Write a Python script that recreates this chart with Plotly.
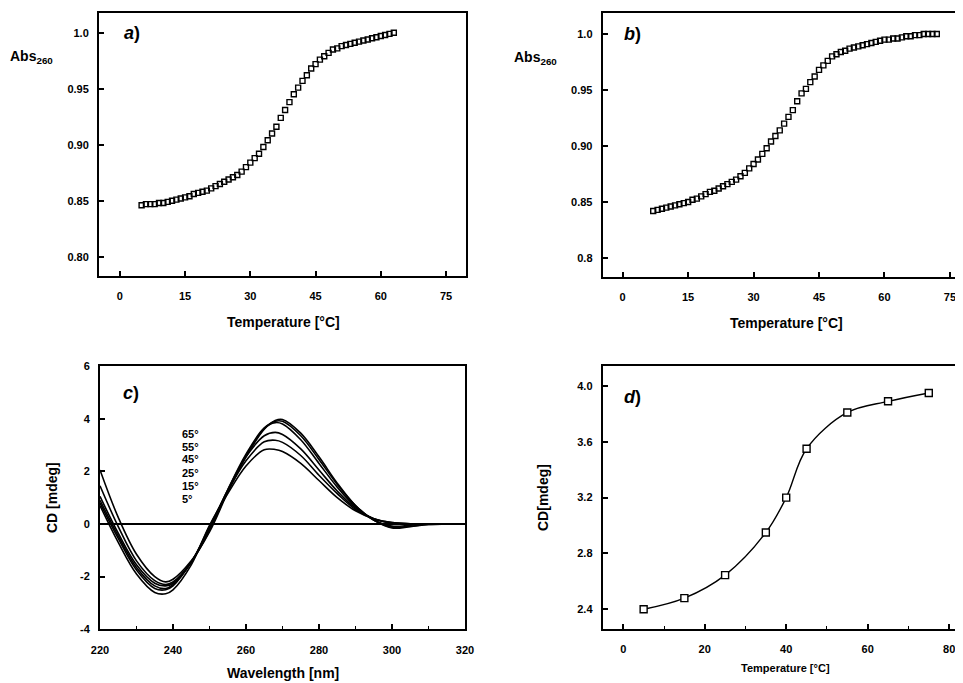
import plotly.graph_objects as go

# ---------------- data ----------------
# panel a) absorbance melting curve
a_temp = list(range(5, 64))
a_abs = [0.846, 0.847, 0.847, 0.847, 0.848, 0.848, 0.849, 0.850, 0.851, 0.852,
         0.853, 0.854, 0.856, 0.857, 0.858, 0.859, 0.861, 0.863, 0.865, 0.867,
         0.869, 0.871, 0.873, 0.876, 0.880, 0.884, 0.888, 0.892, 0.898, 0.904,
         0.910, 0.916, 0.924, 0.931, 0.938, 0.945, 0.951, 0.957, 0.962, 0.968,
         0.972, 0.976, 0.979, 0.982, 0.985, 0.986, 0.988, 0.989, 0.990, 0.991,
         0.992, 0.993, 0.994, 0.995, 0.996, 0.997, 0.998, 0.999, 1.000]

# panel b) absorbance melting curve
b_temp = list(range(7, 73))
b_abs = [0.842, 0.843, 0.844, 0.845, 0.846, 0.847, 0.848, 0.849, 0.850, 0.852,
         0.853, 0.855, 0.857, 0.859, 0.860, 0.862, 0.864, 0.866, 0.868, 0.870,
         0.873, 0.876, 0.880, 0.884, 0.888, 0.893, 0.898, 0.904, 0.909, 0.914,
         0.920, 0.926, 0.932, 0.940, 0.947, 0.951, 0.957, 0.962, 0.968, 0.972,
         0.976, 0.980, 0.982, 0.984, 0.985, 0.987, 0.988, 0.989, 0.990, 0.991,
         0.992, 0.993, 0.994, 0.995, 0.995, 0.996, 0.996, 0.997, 0.998, 0.998,
         0.999, 0.999, 1.000, 1.000, 1.000, 1.000]

# panel c) CD spectra at several temperatures
wavelength = [220, 225, 230, 235, 238, 240, 245, 250, 255, 260, 265, 268, 270,
              275, 280, 285, 290, 295, 300, 305, 310, 320]
cd_temps = ["65°", "55°", "45°", "25°", "15°", "5°"]
cd_65 = [2.05, 0.25, -1.15, -2.00, -2.20, -2.10, -1.40, -0.30, 1.20, 2.55, 3.60, 3.93, 3.97,
         3.45, 2.55, 1.55, 0.70, 0.15, -0.15, -0.10, -0.02, 0.0]
cd_55 = [1.45, -0.10, -1.40, -2.15, -2.30, -2.20, -1.45, -0.25, 1.25, 2.60, 3.62, 3.90, 3.90,
         3.35, 2.45, 1.50, 0.70, 0.15, -0.12, -0.08, -0.02, 0.0]
cd_45 = [1.05, -0.35, -1.55, -2.25, -2.35, -2.25, -1.45, -0.20, 1.30, 2.65, 3.65, 3.85, 3.80,
         3.20, 2.30, 1.40, 0.65, 0.15, -0.08, -0.05, 0.0, 0.0]
cd_25 = [0.90, -0.45, -1.65, -2.35, -2.45, -2.30, -1.45, -0.15, 1.30, 2.55, 3.35, 3.48, 3.40,
         2.85, 2.05, 1.25, 0.60, 0.20, 0.02, 0.0, 0.0, 0.0]
cd_15 = [0.80, -0.55, -1.75, -2.45, -2.50, -2.35, -1.45, -0.10, 1.25, 2.40, 3.12, 3.18, 3.10,
         2.60, 1.85, 1.15, 0.55, 0.20, 0.05, 0.01, 0.0, 0.0]
cd_5 = [0.70, -0.70, -1.90, -2.60, -2.65, -2.50, -1.55, -0.05, 1.15, 2.20, 2.82, 2.83, 2.75,
        2.30, 1.65, 1.00, 0.50, 0.20, 0.05, 0.01, 0.0, 0.0]
cd_series = [cd_65, cd_55, cd_45, cd_25, cd_15, cd_5]

# panel d) CD vs temperature
d_temp = [5, 15, 25, 35, 40, 45, 55, 65, 75]
d_cd = [2.40, 2.48, 2.645, 2.95, 3.20, 3.55, 3.81, 3.89, 3.95]

# tick labels
a_xticks = [0, 15, 30, 45, 60, 75]
a_yticks = [0.80, 0.85, 0.90, 0.95, 1.0]
a_yticktext = ["0.80", "0.85", "0.90", "0.95", "1.0"]
b_yticktext = ["0.8", "0.85", "0.90", "0.95", "1.0"]
c_xticks = [220, 240, 260, 280, 300, 320]
c_yticks = [-4, -2, 0, 2, 4, 6]
c_yticktext = ["-4", "-2", "0", "2", "4", "6"]
d_xticks = [0, 20, 40, 60, 80]
d_yticks = [2.4, 2.8, 3.2, 3.6, 4.0]
d_yticktext = ["2.4", "2.8", "3.2", "3.6", "4.0"]

# ---------------- layout helpers ----------------
W, H = 963, 683
OFF = 8  # page body margin of the browser
FONT = "Liberation Sans, Arial, sans-serif"


def px(x):
    return (x - OFF) / W


def py(y):
    return 1 - (y - OFF) / H


def xdom(x0, x1):
    return [px(x0), min(px(x1), 1.0)]


def ydom(y0, y1):
    return [py(y1), py(y0)]


tickfont = dict(family=FONT, size=11, color="black", weight="bold")


def xax(dom, rng, tickvals, anchor, minor_dtick=None, mirror=True):
    d = dict(domain=dom, range=rng, tickvals=tickvals, ticks="inside", ticklen=5,
             tickwidth=1.5, tickcolor="black", showline=True, linecolor="black",
             linewidth=2, mirror=mirror, showgrid=False, zeroline=False,
             tickfont=tickfont, anchor=anchor, ticklabelstandoff=9, automargin=False)
    if minor_dtick:
        d["minor"] = dict(dtick=minor_dtick, ticks="inside", ticklen=3,
                          tickcolor="black", tickwidth=1, showgrid=False)
    return d


def yax(dom, rng, tickvals, ticktext, anchor, mirror=True):
    return dict(domain=dom, range=rng, tickvals=tickvals, ticktext=ticktext,
                ticks="inside", ticklen=5, tickwidth=1.5, tickcolor="black",
                showline=True, linecolor="black", linewidth=2, mirror=mirror,
                showgrid=False, zeroline=False, tickfont=tickfont, anchor=anchor,
                ticklabelstandoff=6, automargin=False)


fig = go.Figure()

sq = dict(symbol="square-open", color="black", size=5, line=dict(width=1.4, color="black"))

fig.add_trace(go.Scatter(x=a_temp, y=a_abs, mode="markers", marker=sq,
                         xaxis="x", yaxis="y", showlegend=False))
fig.add_trace(go.Scatter(x=b_temp, y=b_abs, mode="markers", marker=sq,
                         xaxis="x2", yaxis="y2", showlegend=False))
for name, series in zip(cd_temps, cd_series):
    fig.add_trace(go.Scatter(x=wavelength, y=series, mode="lines", name=name,
                             line=dict(color="black", width=1.6, shape="spline", smoothing=1.0),
                             xaxis="x3", yaxis="y3", showlegend=False))
fig.add_trace(go.Scatter(x=d_temp, y=d_cd, mode="lines+markers",
                         line=dict(color="black", width=1.4, shape="spline", smoothing=1.0),
                         marker=dict(symbol="square", color="white", size=7,
                                     line=dict(width=1.4, color="black")),
                         xaxis="x4", yaxis="y4", showlegend=False))

fig.add_shape(type="line", xref="x3", yref="y3", x0=220, x1=320, y0=0, y1=0,
              line=dict(color="black", width=2))

layout = dict(
    width=W, height=H, margin=dict(l=0, r=0, t=0, b=0, autoexpand=False),
    paper_bgcolor="white", plot_bgcolor="white",
    font=dict(family=FONT, color="black"),
    xaxis=xax(xdom(99, 466), [-4.8, 79.6], a_xticks, "y"),
    yaxis=yax(ydom(13, 276), [0.7828, 1.0176], a_yticks, a_yticktext, "x"),
    xaxis2=xax(xdom(602.7, 963), [-4.58, 78.0], a_xticks, "y2"),
    yaxis2=yax(ydom(13.3, 276.7), [0.7833, 1.0185], a_yticks, b_yticktext, "x2", mirror=False),
    xaxis3=xax(xdom(100, 465), [220, 320], c_xticks, "y3", minor_dtick=10),
    yaxis3=yax(ydom(366, 629.3), [-4, 6], c_yticks, c_yticktext, "x3"),
    xaxis4=xax(xdom(602.7, 963), [-5.05, 83.4], d_xticks, "y4", minor_dtick=10),
    yaxis4=yax(ydom(366, 628.7), [2.261, 4.143], d_yticks, d_yticktext, "x4", mirror=False),
)
fig.update_layout(**layout)

ann = []


def add(text, x, y, size, xanchor="center", yanchor="middle", angle=0):
    ann.append(dict(text=text, x=px(x), y=py(y), xref="paper", yref="paper",
                    xanchor=xanchor, yanchor=yanchor, showarrow=False,
                    font=dict(family=FONT, size=size, color="black", weight="bold"),
                    textangle=angle))


add("Abs<sub>260</sub>", 8, 57, 14, xanchor="left")
add("Abs<sub>260</sub>", 512, 58, 14, xanchor="left")
add("Temperature [°C]", 283, 322, 14)
add("Temperature [°C]", 786, 323, 14)
add("Wavelength [nm]", 283, 673, 14)
add("CD [mdeg]", 52, 498, 14, angle=-90)
add("CD[mdeg]", 543, 498, 14, angle=-90)
add("Temperature [°C]", 785, 668, 11)
add("<i>a</i>)", 122, 33, 18, xanchor="left")
add("<i>b</i>)", 622, 34, 18, xanchor="left")
add("<i>c</i>)", 121, 393, 18, xanchor="left")
add("<i>d</i>)", 622, 397, 18, xanchor="left")
label_y = [434, 447, 459, 473, 486, 499]
for t, yy in zip(cd_temps, label_y):
    add(t, 180, yy, 11, xanchor="left")

fig.update_layout(annotations=ann)
fig.write_html("out.html")
